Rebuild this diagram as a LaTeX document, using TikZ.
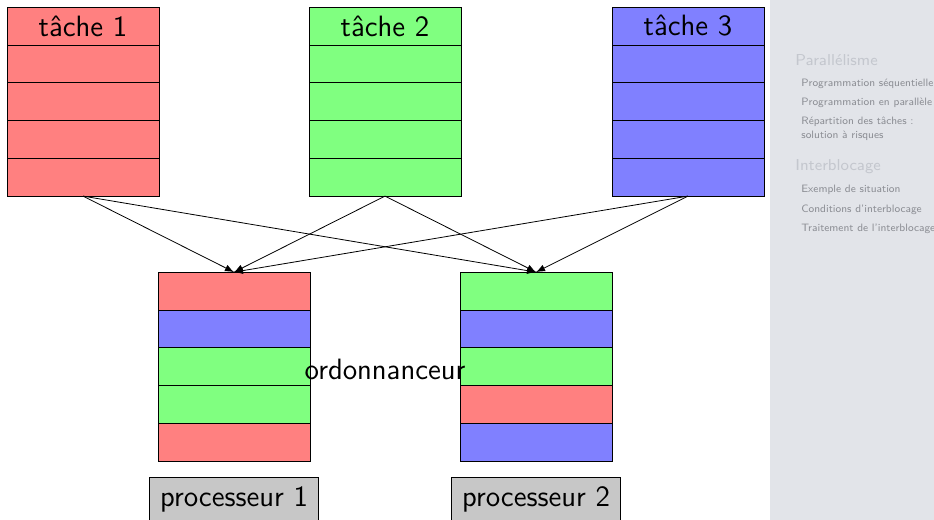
\documentclass[tikz,border=0pt]{standalone}
\usepackage{fontspec}
\usepackage{tikz}
\usetikzlibrary{arrows.meta, positioning, shapes, calc}
\renewcommand{\familydefault}{\sfdefault}

\definecolor{sidebg}{RGB}{226,228,233}
\definecolor{sidesec}{RGB}{196,199,206}
\definecolor{sideitem}{RGB}{140,142,148}

\newcommand{\bigtxt}{\fontsize{14.7}{16}\selectfont}
\newcommand{\sectxt}{\fontsize{7.9}{9}\selectfont}
\newcommand{\itemtxt}{\fontsize{5.35}{7}\selectfont}

\tikzset{
    cell/.style={draw, minimum width=76pt, minimum height=18.9pt, inner sep=0pt, outer sep=0pt},
    proc/.style={draw, fill=black!22, minimum width=84.5pt, minimum height=22pt, inner sep=0pt, font=\bigtxt},
    secname/.style={anchor=base west, inner sep=0pt, text=sidesec, font=\sectxt},
    itemname/.style={anchor=base west, inner sep=0pt, text=sideitem, font=\itemtxt},
}

\begin{document}
\begin{tikzpicture}[x=0.5pt, y=-0.5pt, node distance=8pt]
    \useasboundingbox (0,0) rectangle (934,520);
    \fill[sidebg] (770,0) rectangle (934,520);

    % les taches
    \node[cell, fill=red!50, font=\bigtxt] (t1-0) at (83,26) {tâche 1};
    \node[cell, fill=green!50, font=\bigtxt] (t2-0) at (385,26) {tâche 2};
    \node[cell, fill=blue!50, font=\bigtxt] (t3-0) at (688,26) {tâche 3};
    \foreach \k in {1,...,4} {
        \node[cell, fill=red!50] (t1-\k) at (83,26+37.8*\k) {};
        \node[cell, fill=green!50] (t2-\k) at (385,26+37.8*\k) {};
        \node[cell, fill=blue!50] (t3-\k) at (688,26+37.8*\k) {};
    }

    % les processeurs
    \foreach \c [count=\k from 0] in {red,blue,green,green,red}
        \node[cell, fill=\c!50] (p1-\k) at (234,291+37.8*\k) {};
    \foreach \c [count=\k from 0] in {green,blue,green,red,blue}
        \node[cell, fill=\c!50] (p2-\k) at (536,291+37.8*\k) {};

    \node[proc, below=of p1-4, anchor=north] (cpu1) {processeur 1};
    \node[proc, below=of p2-4, anchor=north] (cpu2) {processeur 2};

    \node[font=\bigtxt, inner sep=0pt] (sched) at (385,369) {ordonnanceur};

    \foreach \t in {1,2,3}
        \foreach \p in {1,2}
            \draw[-{Latex[length=4.5pt, width=3.5pt]}] (t\t-4.south) -- (p\p-0.north);

    % barre laterale
    \node[secname] (sec1) at (795,65) {Parallélisme};
    \node[itemname] (it1) at (801,86) {Programmation séquentielle};
    \node[itemname] (it2) at (801,105) {Programmation en parallèle};
    \node[itemname] (it3) at (801,124) {Répartition des tâches :};
    \node[itemname] (it4) at (801,138) {solution à risques};
    \node[secname] (sec2) at (795,170) {Interblocage};
    \node[itemname] (it5) at (801,192) {Exemple de situation};
    \node[itemname] (it6) at (801,212) {Conditions d'interblocage};
    \node[itemname] (it7) at (801,231) {Traitement de l'interblocage};
\end{tikzpicture}
\end{document}
